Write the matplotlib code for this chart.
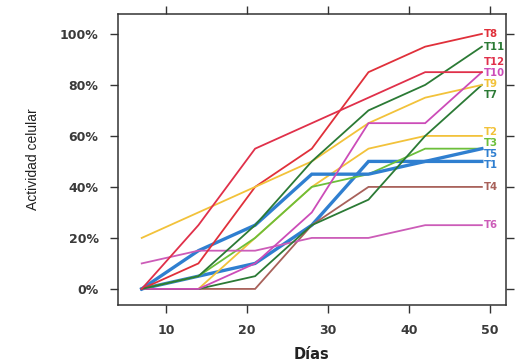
import matplotlib
matplotlib.use("Agg")
import matplotlib.pyplot as plt
from matplotlib.ticker import FuncFormatter

plt.rcParams['font.family'] = ['DejaVu Sans']

# dias de muestreo
dias = [7, 14, 21, 28, 35, 42, 49]

# actividad celular (%) por tratamiento
T1 = [0, 5, 10, 25, 50, 50, 50]
T2 = [0, 0, 20, 40, 55, 60, 60]
T3 = [0, 5, 20, 40, 45, 55, 55]
T4 = [0, 0, 0, 25, 40, 40, 40]
T5 = [0, 15, 25, 45, 45, 50, 55]
T6 = [10, 15, 15, 20, 20, 25, 25]
T7 = [0, 0, 5, 25, 35, 60, 80]
T8 = [0, 10, 40, 55, 85, 95, 100]
T9 = [20, 30, 40, 50, 65, 75, 80]
T10 = [0, 0, 10, 30, 65, 65, 85]
T11 = [0, 5, 25, 50, 70, 80, 95]
T12 = [0, 25, 55, 65, 75, 85, 85]

series = {"T1": T1, "T2": T2, "T3": T3, "T4": T4, "T5": T5, "T6": T6,
          "T7": T7, "T8": T8, "T9": T9, "T10": T10, "T11": T11, "T12": T12}

colores = {"T1": "#2f7fd0", "T2": "#f2c23a", "T3": "#6cbf3a", "T4": "#a8615a",
           "T5": "#2f7fd0", "T6": "#cc5cb8", "T7": "#2b7a35", "T8": "#e0303a",
           "T9": "#f2c23a", "T10": "#cc4cb8", "T11": "#2b7a35", "T12": "#e0304a"}
gruesas = ["T1", "T5"]

fig = plt.figure(figsize=(5.23, 3.63), dpi=100)
ax = fig.add_axes([0.2256, 0.1598, 0.7419, 0.8016])

for nombre, vals in series.items():
    lw = 2.4 if nombre in gruesas else 1.3
    ax.plot(dias, vals, color=colores[nombre], lw=lw, solid_joinstyle='miter')

# etiquetas directas: separar las que se solapan
gap = 4.3
orden = sorted(series, key=lambda k: (series[k][-1], series[k][-2]), reverse=True)
pos = {k: float(series[k][-1]) for k in orden}
for _ in range(200):
    moved = False
    for a, b in zip(orden[:-1], orden[1:]):
        d = pos[a] - pos[b]
        if d < gap - 1e-6:
            shift = (gap - d) / 2
            pos[a] += shift
            pos[b] -= shift
            moved = True
    if not moved:
        break
pos["T8"] = min(pos["T8"], 100)

for nombre in orden:
    ax.annotate(nombre, xy=(dias[-1], pos[nombre]), xytext=(1.5, 0),
                textcoords='offset points', va='center', ha='left',
                color=colores[nombre], fontsize=7.3, fontweight='bold')

ax.set_xlim(4.07, 51.98)
ax.set_ylim(-6.3, 107.8)
ax.set_xticks([10, 20, 30, 40, 50])
ax.set_yticks([0, 20, 40, 60, 80, 100])
ax.yaxis.set_major_formatter(FuncFormatter(lambda v, p: f"{v:.0f}%"))

ax.tick_params(direction='out', length=6, width=1, color='#333333',
               top=True, right=True, labeltop=False, labelright=False,
               labelsize=9, pad=8)
for lab in ax.get_xticklabels() + ax.get_yticklabels():
    lab.set_fontweight('bold')
    lab.set_color('#3a3a3a')
for s in ax.spines.values():
    s.set_color('#333333')
    s.set_linewidth(1.1)

ax.set_xlabel("Días", fontsize=10.5, fontweight='bold', labelpad=7, color='#222222')
ax.set_ylabel("Actividad celular", fontsize=10, labelpad=14, color='#222222',
              family='Liberation Sans')

fig.savefig("out.png", dpi=100)
